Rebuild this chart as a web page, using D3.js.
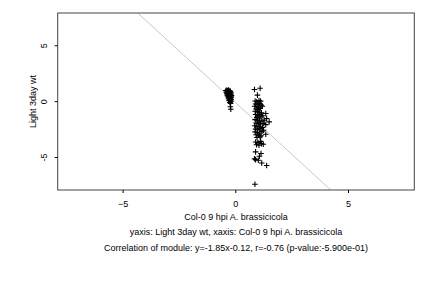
<!DOCTYPE html>
<html>
<head>
<meta charset="utf-8">
<script src="https://cdn.jsdelivr.net/npm/d3@7"></script>
<style>
  body { margin: 0; background: #fff; }
  svg { display: block; font-family: "Liberation Sans", Arial, sans-serif; }
</style>
</head>
<body>
<svg id="chart" width="432" height="288"></svg>
<script>
// cluster near x=-0.3
var clusterAx = [-0.42,-0.38,-0.35,-0.31,-0.28,-0.25,-0.22,-0.40,-0.36,-0.33,-0.30,-0.27,-0.24,-0.20,-0.38,-0.34,-0.30,-0.26,-0.23,-0.19,-0.35,-0.31,-0.28,-0.24,-0.21,-0.17,-0.32,-0.28,-0.25,-0.22,-0.18,-0.30,-0.26,-0.22,-0.19,-0.27,-0.23,-0.20,-0.24,-0.21,-0.22,-0.20];
var clusterAy = [0.95,0.98,0.92,1.00,0.94,0.90,0.88,0.80,0.84,0.78,0.82,0.76,0.80,0.74,0.65,0.68,0.62,0.66,0.60,0.64,0.50,0.54,0.48,0.52,0.46,0.50,0.38,0.34,0.40,0.30,0.36,0.22,0.18,0.24,0.14,0.05,0.08,-0.02,-0.12,-0.20,-0.50,-0.72];

// cluster near x=1
var clusterBx = [0.85,1.10,0.98,
  0.88,0.95,1.05,1.12,0.90,1.00,1.08,1.15,0.86,0.96,1.04,1.20,0.92,1.02,1.10,
  0.88,0.98,1.06,1.16,1.35,0.90,1.00,1.10,1.22,0.95,1.05,1.14,1.39,
  0.88,0.98,1.08,1.18,1.28,1.50,0.92,1.02,1.12,1.24,1.35,0.86,0.96,1.06,1.20,
  0.90,1.00,1.10,1.25,0.88,0.98,1.08,1.18,0.92,1.04,1.14,1.35,0.96,1.10,
  0.90,1.00,1.12,0.94,1.05,1.16,1.24,
  0.90,1.14,1.07,0.90,1.02,1.17,1.39,0.85,0.87];
var clusterBy = [1.05,1.15,0.54,
  0.02,-0.05,0.05,0.00,-0.25,-0.30,-0.20,-0.35,-0.45,-0.50,-0.55,-0.45,-0.70,-0.75,-0.65,
  -0.90,-0.95,-1.00,-1.05,-1.10,-1.20,-1.25,-1.20,-1.30,-1.45,-1.50,-1.40,-1.55,
  -1.65,-1.70,-1.75,-1.80,-1.70,-1.85,-1.95,-2.00,-2.05,-2.00,-2.10,-2.20,-2.25,-2.30,-2.35,
  -2.50,-2.55,-2.45,-2.60,-2.75,-2.80,-2.85,-2.70,-3.00,-3.05,-3.10,-2.96,-3.25,-3.20,
  -3.65,-3.70,-3.60,-3.90,-3.95,-3.80,-3.85,
  -4.54,-4.69,-4.93,-5.23,-5.29,-5.53,-5.76,-5.15,-7.44];

var xTicks = [-5, 0, 5];
var yTicks = [-5, 0, 5];
var slope = -1.85, intercept = -0.12;

var xTitle = "Col-0 9 hpi A. brassicicola";
var yTitle = "Light 3day wt";
var subtitle = "yaxis: Light 3day wt, xaxis: Col-0 9 hpi A. brassicicola";
var caption = "Correlation of module: y=-1.85x-0.12, r=-0.76 (p-value:-5.900e-01)";

var svg = d3.select("#chart");
var margin = {left: 57.7, right: 414.3, top: 13, bottom: 190};

var xScale = d3.scaleLinear().domain([-7.88, 7.94]).range([margin.left, margin.right]);
var yScale = d3.scaleLinear().domain([-7.95, 7.89]).range([margin.bottom, margin.top]);

var plot = svg.append("g");

// regression line, clipped to the box
svg.append("clipPath").attr("id", "clip").append("rect")
  .attr("x", margin.left).attr("y", margin.top)
  .attr("width", margin.right - margin.left).attr("height", margin.bottom - margin.top);

var xs = xScale.domain();
plot.append("line")
  .attr("clip-path", "url(#clip)")
  .attr("x1", xScale(xs[0])).attr("y1", yScale(slope * xs[0] + intercept))
  .attr("x2", xScale(xs[1])).attr("y2", yScale(slope * xs[1] + intercept))
  .style("stroke", "#c8c8c8").style("stroke-width", 1);

// points as "+"
var pts = [];
clusterAx.forEach(function (x, i) { pts.push([x, clusterAy[i]]); });
clusterBx.forEach(function (x, i) { pts.push([x, clusterBy[i]]); });

var plus = d3.symbol().type(d3.symbolCross).size(20);
var s = 2.8;
pts.forEach(function (d) {
  var cx = xScale(d[0]), cy = yScale(d[1]);
  plot.append("path")
    .attr("d", "M" + (cx - s) + "," + cy + "H" + (cx + s) + "M" + cx + "," + (cy - s) + "V" + (cy + s))
    .style("stroke", "#000").style("stroke-width", 1.1).style("fill", "none");
});

// box
plot.append("rect")
  .attr("x", margin.left).attr("y", margin.top)
  .attr("width", margin.right - margin.left).attr("height", margin.bottom - margin.top)
  .style("fill", "none").style("stroke", "#444").style("stroke-width", 1);

// axes
var bottomAxis = d3.axisBottom(xScale).tickValues(xTicks).tickSize(3).tickPadding(8).tickFormat(d3.format("d"));
var gx = svg.append("g").attr("transform", "translate(0," + margin.bottom + ")").call(bottomAxis);
gx.select(".domain").remove();
gx.selectAll("text").style("font-size", "9px").style("fill", "#000");
gx.selectAll("line").style("stroke", "#000");

var leftAxis = d3.axisLeft(yScale).tickValues(yTicks).tickSize(3).tickFormat(d3.format("d"));
var gy = svg.append("g").attr("transform", "translate(" + margin.left + ",0)").call(leftAxis);
gy.select(".domain").remove();
gy.selectAll("line").style("stroke", "#000");
gy.selectAll("text").remove();
gy.selectAll(".tick").append("text")
  .attr("transform", "translate(-11,0) rotate(-90)")
  .attr("text-anchor", "middle")
  .attr("dy", "0em")
  .style("font-size", "9px").style("fill", "#000")
  .text(function (d) { return d; });

var cx = (margin.left + margin.right) / 2;
svg.append("text").attr("x", cx).attr("y", 220).attr("text-anchor", "middle")
  .style("font-size", "9px").text(xTitle);
svg.append("text").attr("x", cx).attr("y", 235).attr("text-anchor", "middle")
  .style("font-size", "9px").text(subtitle);
svg.append("text").attr("x", cx).attr("y", 251).attr("text-anchor", "middle")
  .style("font-size", "9px").text(caption);
svg.append("text")
  .attr("transform", "translate(36," + ((margin.top + margin.bottom) / 2) + ") rotate(-90)")
  .attr("text-anchor", "middle")
  .style("font-size", "9px").text(yTitle);
</script>
</body>
</html>
